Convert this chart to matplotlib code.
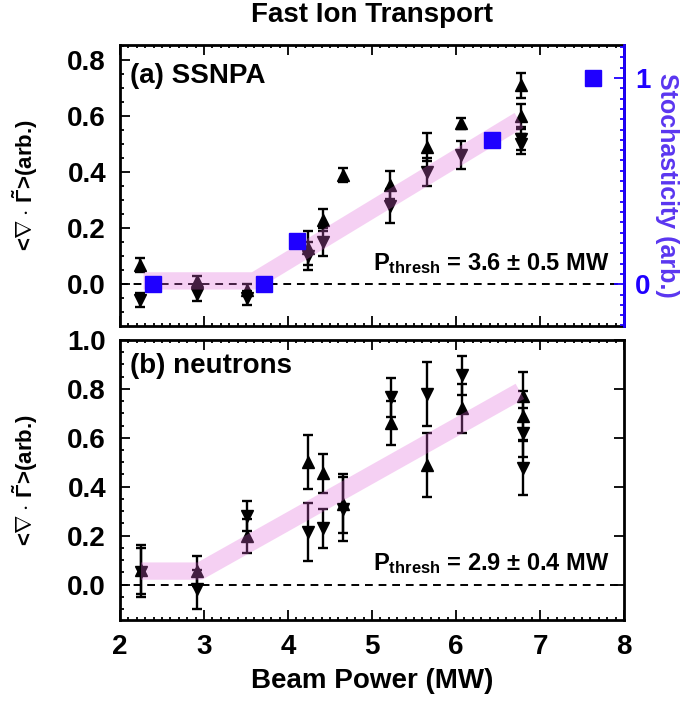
import matplotlib
matplotlib.use("Agg")
import matplotlib.pyplot as plt
from matplotlib.ticker import MultipleLocator, FixedLocator

plt.rcParams['font.family'] = ['Liberation Sans', 'DejaVu Sans']
plt.rcParams['font.weight'] = 'bold'
plt.rcParams['axes.labelweight'] = 'bold'
plt.rcParams['mathtext.fontset'] = 'custom'
plt.rcParams['mathtext.rm'] = 'Liberation Sans:bold'
plt.rcParams['mathtext.bf'] = 'Liberation Sans:bold'
plt.rcParams['mathtext.it'] = 'Liberation Sans:bold'

# (a) SSNPA
x_a_up = [2.24, 2.92, 3.51, 4.24, 4.42, 4.66, 5.21, 5.65, 6.06, 6.77, 6.77]
y_a_up = [0.07, 0.01, -0.02, 0.13, 0.23, 0.39, 0.355, 0.49, 0.575, 0.71, 0.60]
e_a_up = [0.025, 0.02, 0.02, 0.06, 0.04, 0.025, 0.05, 0.05, 0.02, 0.045, 0.045]
x_a_dn = [2.24, 2.92, 3.51, 4.24, 4.42, 5.21, 5.65, 6.06, 6.77, 6.77]
y_a_dn = [-0.055, -0.035, -0.05, 0.10, 0.15, 0.28, 0.40, 0.46, 0.52, 0.50]
e_a_dn = [0.025, 0.025, 0.025, 0.05, 0.05, 0.06, 0.05, 0.05, 0.04, 0.035]
band_a_x = [2.28, 3.6, 6.75]
band_a_y = [0.012, 0.012, 0.585]

# stochasticity (right axis of panel a)
stoch_x = [2.39, 3.71, 4.11, 6.43, 7.63]
stoch_y = [0.0, 0.0, 0.21, 0.70, 1.0]

# (b) neutrons
x_b_up = [2.25, 2.92, 3.51, 4.24, 4.42, 4.66, 5.23, 5.65, 6.07, 6.80, 6.80]
y_b_up = [0.06, 0.055, 0.20, 0.50, 0.455, 0.33, 0.66, 0.49, 0.72, 0.77, 0.69]
e_b_up = [0.10, 0.06, 0.07, 0.11, 0.08, 0.12, 0.09, 0.13, 0.10, 0.10, 0.10]
x_b_dn = [2.25, 2.92, 3.51, 4.24, 4.42, 4.66, 5.23, 5.65, 6.07, 6.80, 6.80]
y_b_dn = [0.05, -0.02, 0.28, 0.215, 0.23, 0.31, 0.765, 0.78, 0.855, 0.62, 0.475]
e_b_dn = [0.10, 0.08, 0.06, 0.12, 0.08, 0.13, 0.08, 0.13, 0.08, 0.10, 0.11]
band_b_x = [2.25, 2.95, 6.76]
band_b_y = [0.055, 0.055, 0.79]

band_col = (0.88, 0.4, 0.85)
blue = '#1f00ff'
lab_blue = '#5a36f0'

fig = plt.figure(figsize=(6.85, 7.02), dpi=100)
ax1 = fig.add_axes([0.1752, 0.5356, 0.7358, 0.4003])
ax2 = fig.add_axes([0.1752, 0.1168, 0.7358, 0.3989])


def style(ax, ylim):
    ax.set_xlim(2, 8)
    ax.set_ylim(*ylim)
    ax.xaxis.set_major_locator(MultipleLocator(1))
    ax.xaxis.set_minor_locator(MultipleLocator(0.1))
    ax.yaxis.set_major_locator(MultipleLocator(0.2))
    ax.yaxis.set_minor_locator(MultipleLocator(0.05))
    ax.tick_params(which='both', direction='in', top=True, width=1.3)
    ax.tick_params(which='major', length=7)
    ax.tick_params(which='minor', length=3)
    ax.tick_params(axis='x', which='minor', length=2)
    ax.tick_params(labelsize=20, pad=10)
    ax.yaxis.set_major_formatter(plt.FormatStrFormatter('%.1f'))
    for s in ax.spines.values():
        s.set_linewidth(2.0)
    ax.axhline(0, color='k', ls=(0, (4, 3)), lw=1.4, zorder=1)


def points(ax, xu, yu, eu, xd, yd, ed):
    ax.errorbar(xu, yu, yerr=eu, fmt='^', color='k', ms=8, capsize=3.5,
                elinewidth=1.7, capthick=1.7, zorder=2)
    ax.errorbar(xd, yd, yerr=ed, fmt='v', color='k', ms=8, capsize=3.5,
                elinewidth=1.7, capthick=1.7, zorder=2)


ylab = r'<$\nabla\cdot\,\tilde{\Gamma}$>(arb.)'

# panel a
style(ax1, (-0.149, 0.854))
ax1.tick_params(right=False, labelbottom=False)
points(ax1, x_a_up, y_a_up, e_a_up, x_a_dn, y_a_dn, e_a_dn)
ax1.plot(band_a_x, band_a_y, color=band_col, alpha=0.3, lw=12.5,
         solid_capstyle='butt', zorder=3)
ax1.text(2.12, 0.72, '(a) SSNPA', fontsize=20, fontweight='bold', va='baseline')
ax1.text(7.83, 0.051, r'$\mathbf{P_{thresh}}$ = 3.6 ± 0.5 MW', fontsize=17,
         ha='right', va='baseline')
ax1.set_ylabel(ylab, fontsize=16, fontweight='bold')
ax1.yaxis.set_label_coords(-0.159, 0.5)

axr = ax1.twinx()
axr.set_ylim(-0.2025, 1.16)
axr.plot(stoch_x, stoch_y, 's', color=blue, ms=12, zorder=5)
axr.yaxis.set_major_locator(FixedLocator([0, 1]))
axr.yaxis.set_minor_locator(MultipleLocator(0.05))
axr.tick_params(which='both', direction='in', colors=blue, width=1.3)
axr.tick_params(which='major', length=7, labelsize=20, pad=8)
axr.tick_params(which='minor', length=3)
for lab in axr.get_yticklabels():
    lab.set_color(blue)
axr.spines['right'].set_color(blue)
axr.spines['right'].set_linewidth(2.0)
for k in ['left', 'top', 'bottom']:
    axr.spines[k].set_visible(False)
axr.set_ylabel('Stochasticity (arb.)', fontsize=18, fontweight='bold',
               color=lab_blue, rotation=-90)
axr.yaxis.set_label_coords(1.085, 0.5)
axr.yaxis.label.set_va('center')

# panel b
style(ax2, (-0.145, 1.0))
ax2.tick_params(right=True)
points(ax2, x_b_up, y_b_up, e_b_up, x_b_dn, y_b_dn, e_b_dn)
ax2.plot(band_b_x, band_b_y, color=band_col, alpha=0.3, lw=12.5,
         solid_capstyle='butt', zorder=3)
ax2.text(2.12, 0.866, '(b) neutrons', fontsize=20, fontweight='bold', va='baseline')
ax2.text(7.83, 0.061, r'$\mathbf{P_{thresh}}$ = 2.9 ± 0.4 MW', fontsize=17,
         ha='right', va='baseline')
ax2.set_ylabel(ylab, fontsize=16, fontweight='bold')
ax2.yaxis.set_label_coords(-0.159, 0.5)
ax2.set_xlabel('Beam Power (MW)', fontsize=20, fontweight='bold', labelpad=6)

fig.text(0.543, 0.978, 'Fast Ion Transport', fontsize=20, fontweight='bold',
         ha='center', va='center')

fig.savefig('out.png', dpi=100)
